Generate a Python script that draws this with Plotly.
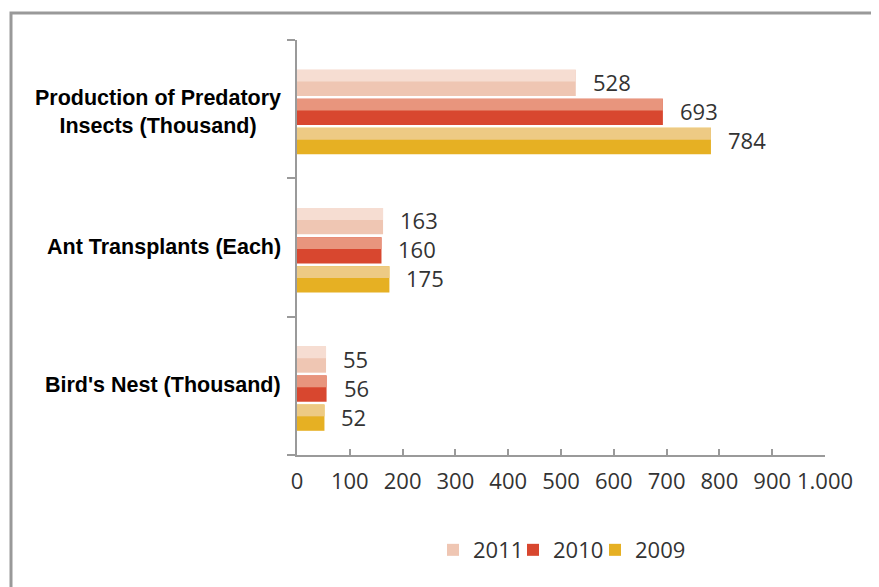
import plotly.graph_objects as go

categories = ["Production of Predatory<br>Insects (Thousand)", "Ant Transplants (Each)", "Bird's Nest (Thousand)"]
years = ["2011", "2010", "2009"]
values = {
    "2011": [528, 163, 55],
    "2010": [693, 160, 56],
    "2009": [784, 175, 52],
}
tick_vals = [0, 100, 200, 300, 400, 500, 600, 700, 800, 900, 1000]
tick_text = ["0", "100", "200", "300", "400", "500", "600", "700", "800", "900", "1.000"]

# base colour, lighter top highlight
colors = {
    "2011": ("#EFC6B3", "#F6DDD2"),
    "2010": ("#D8472F", "#E8957D"),
    "2009": ("#E6B023", "#EDCA84"),
}
bar_w = 0.19
offsets = {"2011": -0.285, "2010": -0.075, "2009": 0.135}
legend_ids = {"2011": "legend", "2010": "legend2", "2009": "legend3"}

num_font = dict(family='Open Sans', size=22, color='#333333')

pos = list(range(len(categories)))
fig = go.Figure()
annotations = []

for yr in years:
    base, light = colors[yr]
    fig.add_trace(go.Bar(
        y=pos, x=values[yr], orientation='h', name=yr, legend=legend_ids[yr],
        width=bar_w, offset=offsets[yr],
        marker=dict(color=base, line=dict(width=0)),
        hoverinfo='x'
    ))
    fig.add_trace(go.Bar(
        y=pos, x=values[yr], orientation='h', showlegend=False,
        width=bar_w * 0.45, offset=offsets[yr],
        marker=dict(color=light, line=dict(width=0)),
        hoverinfo='skip'
    ))
    for p, v in zip(pos, values[yr]):
        annotations.append(dict(
            x=v, y=p + offsets[yr] + bar_w / 2, xref='x', yref='y',
            text=str(v), showarrow=False, xanchor='left', yanchor='middle',
            xshift=15, yshift=1, font=num_font
        ))

for p, c in zip(pos, categories):
    annotations.append(dict(
        x=-0.026, y=p, xref='paper', yref='y', text='<b>' + c + '</b>', showarrow=False,
        xanchor='right', yanchor='middle', align='center', yshift=-3 if p == 0 else 1,
        font=dict(family='Liberation Sans, Arial', size=21.5, color='black')
    ))

# plot area in page pixels: x 289..817, y 32..447
px_x = lambda v: (v - 289) / 528
px_y = lambda v: (447 - v) / 415
frame = [dict(
    type='path', xref='paper', yref='paper',
    path=f"M {px_x(3)} {px_y(600)} L {px_x(3)} {px_y(5)} L {px_x(900)} {px_y(5)}",
    line=dict(color='#999999', width=3)
)]

legend_style = dict(orientation='h', yanchor='middle', y=-0.229, xanchor='left',
                    font=num_font, itemwidth=30, bgcolor='rgba(0,0,0,0)')
legend_text_x = {"legend": 465, "legend2": 545, "legend3": 627}
legends = {k: dict(legend_style, x=px_x(v - 40)) for k, v in legend_text_x.items()}

fig.update_layout(
    width=879, height=587,
    margin=dict(l=289, r=62, t=32, b=140),
    barmode='overlay',
    plot_bgcolor='white', paper_bgcolor='white',
    showlegend=True,
    **legends,
    xaxis=dict(range=[0, 1000], tickvals=tick_vals, ticktext=tick_text,
               showgrid=False, zeroline=False, showline=True, linecolor='#9a9a9a', linewidth=2,
               ticks='inside', ticklen=6, tickcolor='#9a9a9a', tickwidth=1.5,
               ticklabelstandoff=6, tickfont=num_font),
    yaxis=dict(range=[2.5, -0.5], tickvals=[-0.5, 0.5, 1.5, 2.5], showticklabels=False,
               showgrid=False, zeroline=False, showline=True, linecolor='#9a9a9a', linewidth=2,
               ticks='outside', ticklen=8, tickcolor='#9a9a9a', tickwidth=1.5),
    annotations=annotations,
    shapes=frame,
)

fig.write_html("out.html")
